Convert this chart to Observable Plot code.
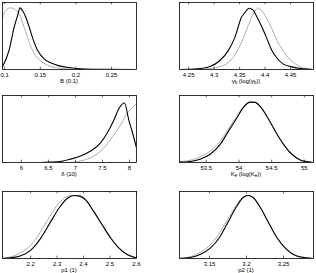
<!DOCTYPE html>
<html><head><meta charset="utf-8">
<script src="https://cdn.jsdelivr.net/npm/d3@7"></script>
<script src="https://cdn.jsdelivr.net/npm/@observablehq/plot@0.6"></script>
<style>
body{margin:0;background:#fff;}
#c{position:relative;width:316px;height:273px;overflow:hidden;}
#c svg{position:absolute;}
</style></head><body><div id="c"></div>
<script>
// Panel 1: B (0.1)
const bDomain = [0.097, 0.285];
const bTicks = [0.1, 0.15, 0.2, 0.25];
const bSolidX = [0.097,0.1063,0.1133,0.118,0.1217,0.125,0.1297,0.1343,0.139,0.146,0.1553,0.1646,0.1763,0.1926,0.2066,0.2346,0.285];
const bSolidY = [0.04,0.29,0.63,0.80,0.92,0.88,0.78,0.64,0.48,0.29,0.16,0.10,0.054,0.025,0.01,0.003,0];
const bDotX = [0.097,0.1016,0.1086,0.1156,0.1203,0.125,0.1296,0.1343,0.1413,0.1506,0.16,0.174,0.1926,0.2159];
const bDotY = [0.78,0.88,0.92,0.89,0.83,0.70,0.56,0.41,0.24,0.13,0.064,0.025,0.008,0];

// Panel 2: gamma
const gDomain = [4.232, 4.495];
const gTicks = [4.25, 4.3, 4.35, 4.4, 4.45];
const gSolidX = [4.232,4.2659,4.2919,4.3114,4.3277,4.3407,4.3537,4.3602,4.3687,4.3765,4.383,4.3928,4.4026,4.4123,4.4221,4.4351,4.4546,4.4742,4.495];
const gSolidY = [0,0.01,0.045,0.134,0.282,0.48,0.78,0.85,0.915,0.885,0.80,0.65,0.48,0.30,0.183,0.084,0.035,0.01,0];
const gDotX = [4.2854,4.3179,4.3375,4.3537,4.3667,4.3765,4.3863,4.3961,4.4091,4.4221,4.4351,4.4481,4.4644,4.4839,4.495];
const gDotY = [0.01,0.06,0.183,0.406,0.653,0.827,0.916,0.85,0.678,0.455,0.282,0.158,0.06,0.01,0];

// Panel 3: delta
const dDomain = [5.65, 8.13];
const dTicks = [6, 6.5, 7, 7.5, 8];
const dSolidX = [5.65,6.358,6.542,6.727,6.912,7.096,7.281,7.465,7.588,7.712,7.804,7.908,7.988,8.05,8.13];
const dSolidY = [0,0,0.005,0.015,0.05,0.098,0.171,0.293,0.44,0.634,0.805,0.888,0.634,0.463,0.22];
const dDotX = [6.604,6.85,7.096,7.342,7.527,7.712,7.835,7.958,8.05,8.13];
const dDotY = [0,0,0.024,0.098,0.22,0.415,0.561,0.732,0.815,0.878];

// Panel 4: Ke
const kDomain = [53.09, 55.14];
const kTicks = [53.5, 54, 54.5, 55];
const kSolidX = [53.09,53.253,53.406,53.559,53.712,53.84,53.967,54.069,54.171,54.248,54.324,54.426,54.554,54.681,54.809,54.936,55.063,55.14];
const kSolidY = [0.005,0.015,0.049,0.123,0.271,0.468,0.665,0.823,0.901,0.897,0.837,0.69,0.468,0.271,0.123,0.039,0.01,0];
const kDotX = [53.09,53.253,53.406,53.559,53.712,53.84,53.967,54.069,54.171,54.248,54.324,54.426,54.554,54.681,54.809,54.936,55.063,55.14];
const kDotY = [0.015,0.034,0.084,0.172,0.32,0.507,0.69,0.837,0.901,0.897,0.837,0.69,0.468,0.271,0.123,0.039,0.01,0];

// Panel 5: p1
const p1Domain = [2.094, 2.6];
const p1Ticks = [2.2, 2.3, 2.4, 2.5, 2.6];
const p1SolidX = [2.094,2.125,2.163,2.201,2.238,2.276,2.307,2.339,2.364,2.383,2.408,2.439,2.471,2.502,2.533,2.565,2.6];
const p1SolidY = [0,0.01,0.04,0.125,0.30,0.55,0.75,0.90,0.94,0.935,0.875,0.70,0.50,0.31,0.16,0.06,0.01];
const p1DotX = [2.094,2.125,2.163,2.201,2.238,2.276,2.307,2.339,2.364,2.383,2.408,2.439,2.471,2.502,2.533,2.565,2.6];
const p1DotY = [0.005,0.025,0.09,0.2,0.4,0.65,0.825,0.925,0.94,0.93,0.87,0.69,0.49,0.30,0.155,0.055,0.01];

// Panel 6: p2
const p2Domain = [3.1095, 3.2905];
const p2Ticks = [3.15, 3.2, 3.25];
const p2SolidX = [3.1095,3.1238,3.1373,3.1507,3.1642,3.1754,3.1866,3.1955,3.2022,3.209,3.2179,3.2291,3.2403,3.2537,3.2672,3.2807,3.2905];
const p2SolidY = [0,0.015,0.06,0.15,0.325,0.55,0.775,0.91,0.94,0.91,0.775,0.55,0.325,0.14,0.04,0.01,0];
const p2DotX = [3.1095,3.1238,3.1373,3.1507,3.1642,3.1754,3.1866,3.1955,3.2022,3.209,3.2179,3.2291,3.2403,3.2537,3.2672,3.2807,3.2905];
const p2DotY = [0.005,0.025,0.09,0.2,0.39,0.6,0.8,0.92,0.94,0.91,0.775,0.55,0.325,0.14,0.04,0.01,0];

// Labels: [main, subscript, middle, subscript, tail]
const labels = [
  [["B (0.1)", false]],
  [["γ", false], ["b", true], [" (log(γ", false], ["b", true], ["))", false]],
  [["δ (10)", false]],
  [["K", false], ["e", true], [" (log(K", false], ["e", true], ["))", false]],
  [["p1 (1)", false]],
  [["p2 (1)", false]]
];

const panels = [
  {domain: bDomain, ticks: bTicks, sx: bSolidX, sy: bSolidY, dx: bDotX, dy: bDotY, left: 0, top: 0},
  {domain: gDomain, ticks: gTicks, sx: gSolidX, sy: gSolidY, dx: gDotX, dy: gDotY, left: 177, top: 0},
  {domain: dDomain, ticks: dTicks, sx: dSolidX, sy: dSolidY, dx: dDotX, dy: dDotY, left: 0, top: 93},
  {domain: kDomain, ticks: kTicks, sx: kSolidX, sy: kSolidY, dx: kDotX, dy: kDotY, left: 177, top: 93},
  {domain: p1Domain, ticks: p1Ticks, sx: p1SolidX, sy: p1SolidY, dx: p1DotX, dy: p1DotY, left: 0, top: 189},
  {domain: p2Domain, ticks: p2Ticks, sx: p2SolidX, sy: p2SolidY, dx: p2DotX, dy: p2DotY, left: 177, top: 189}
];

const W = 138, H = 91, mL = 2, mR = 2, mT = 2, mB = 22;
const container = document.getElementById("c");
const font = "'Liberation Sans', Arial, sans-serif";

panels.forEach((p, i) => {
  const solid = p.sx.map((x, j) => ({x, y: p.sy[j]}));
  const dotted = p.dx.map((x, j) => ({x, y: p.dy[j]}));
  const svg = Plot.plot({
    width: W, height: H,
    marginLeft: mL, marginRight: mR, marginTop: mT, marginBottom: mB,
    style: {fontFamily: font, fontSize: "6px", background: "white", overflow: "visible"},
    x: {domain: p.domain},
    y: {domain: [0, 1], axis: null},
    marks: [
      Plot.line(dotted, {x: "x", y: "y", stroke: "#8a8a8a", strokeWidth: 0.9, strokeDasharray: "1,1.3", curve: "monotone-x", clip: true}),
      Plot.line(solid, {x: "x", y: "y", stroke: "black", strokeWidth: 1.1, curve: "monotone-x", clip: true}),
      Plot.ruleX(p.ticks, {x: d => d, y1: 0, y2: 0.035, stroke: "black", strokeWidth: 0.6}),
      Plot.ruleX(p.ticks, {x: d => d, y1: 0.965, y2: 1, stroke: "black", strokeWidth: 0.6}),
      Plot.axisX(p.ticks, {tickSize: 0, tickPadding: 3.5, fontSize: 6, label: null, tickFormat: d => String(d)}),
      Plot.frame({stroke: "black", strokeWidth: 0.8})
    ]
  });
  svg.style.left = p.left + "px";
  svg.style.top = p.top + "px";
  const t = d3.select(svg).append("text")
    .attr("x", mL + (W - mL - mR) / 2)
    .attr("y", H - mB + 13.5)
    .attr("text-anchor", "middle")
    .attr("font-size", 6)
    .attr("font-family", font)
    .attr("fill", "black");
  labels[i].forEach(([s, sub]) => {
    const ts = t.append("tspan").text(s);
    if (sub) ts.attr("font-size", 4.5).attr("dy", 1.5);
    else if (labels[i].length > 1) ts.attr("dy", 0);
  });
  // reset baseline after subscripts
  if (labels[i].length > 1) {
    t.selectAll("tspan").each(function(d, k) {
      const isSub = labels[i][k][1];
      const prevSub = k > 0 && labels[i][k-1][1];
      if (!isSub && prevSub) d3.select(this).attr("dy", -1.5);
    });
  }
  container.appendChild(svg);
});
</script>
</body></html>
